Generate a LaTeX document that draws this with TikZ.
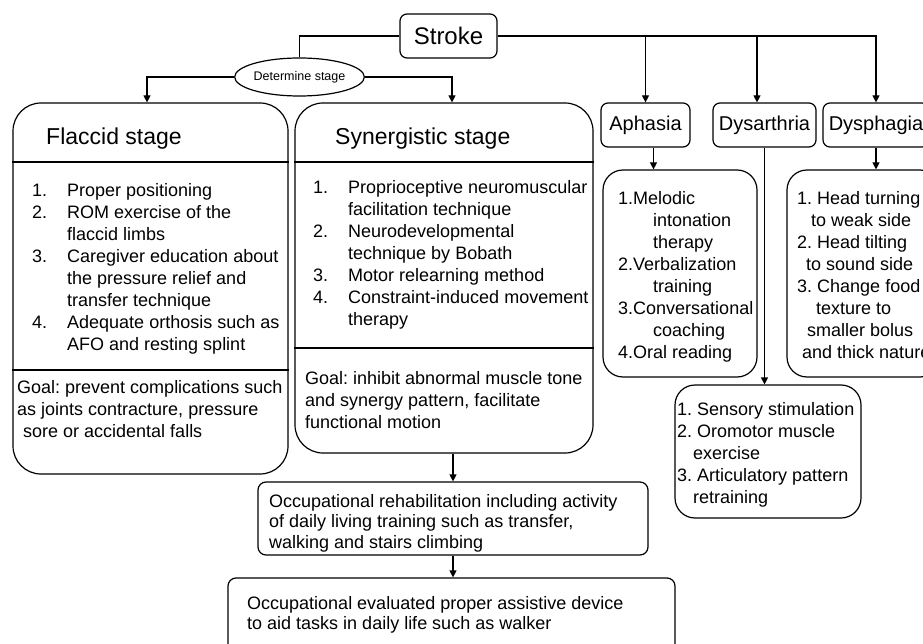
\documentclass[tikz,border=0pt]{standalone}
\usepackage{fontspec}
\setmainfont{Liberation Sans}
\usepackage{tikz}
\usetikzlibrary{arrows.meta, positioning, shapes.geometric}

\tikzset{
  box/.style={draw, line width=1.2pt, rounded corners=7pt, inner sep=0pt},
  bigbox/.style={draw, line width=1.2pt, rounded corners=28pt, inner sep=0pt},
  listbox/.style={draw, line width=1.2pt, rounded corners=20pt, inner sep=0pt},
  txt/.style={anchor=base west, align=left, inner sep=0pt, font=\fontsize{18}{22}\selectfont},
  arr/.style={-{Triangle[width=7pt,length=7pt]}, line width=1.2pt},
}
\newcommand{\num}[1]{\makebox[35pt][l]{#1}}
\frenchspacing

\begin{document}
\begin{tikzpicture}[x=1pt, y=-1pt]
\useasboundingbox (0,0) rectangle (923,644);
% top row
\node[box, minimum width=97, minimum height=44, font=\fontsize{24}{28}\selectfont] (stroke) at (448.5,36) {Stroke};
\node[draw, ellipse, line width=1.2pt, inner sep=0pt, minimum width=125, minimum height=38, font=\fontsize{12.5}{14}\selectfont] (det) at (299.5,77) {Determine stage};
\node[box, minimum width=89, minimum height=44, font=\fontsize{20}{24}\selectfont] (aphasia) at (645.5,125) {Aphasia};
\node[box, minimum width=103, minimum height=44, font=\fontsize{20}{24}\selectfont] (dysar) at (764.5,125) {Dysarthria};
\node[box, minimum width=106, minimum height=44, font=\fontsize{20}{24}\selectfont] (dysph) at (876,125) {Dysphagia};

% stage boxes (text nodes sit on the baseline of their last line)
\node[bigbox, minimum width=275, minimum height=371] (flaccid) at (150.5,288.5) {};
\node[bigbox, minimum width=298, minimum height=350] (syn) at (444,278) {};
\draw[line width=1.2pt] (flaccid.west |- 0,162) -- (flaccid.east |- 0,162);
\draw[line width=1.2pt] (flaccid.west |- 0,370) -- (flaccid.east |- 0,370);
\draw[line width=1.2pt] (syn.west |- 0,162) -- (syn.east |- 0,162);
\draw[line width=1.2pt] (syn.west |- 0,348) -- (syn.east |- 0,348);

\node[txt, font=\fontsize{23}{27}\selectfont] (ftitle) at (46,145) {Flaccid stage};
\node[txt] (flist) at (32,350) {\num{1.}Proper positioning\\
  \num{2.}ROM exercise of the\\ \hspace*{35pt}flaccid limbs\\
  \num{3.}Caregiver education about\\ \hspace*{35pt}the pressure relief and\\ \hspace*{35pt}transfer technique\\
  \num{4.}Adequate orthosis such as\\ \hspace*{35pt}AFO and resting splint};
\node[txt] (fgoal) at (17,437) {Goal: prevent complications such\\ as joints contracture, pressure\\ \hspace*{6pt}sore or accidental falls};

\node[txt, font=\fontsize{23}{27}\selectfont] (stitle) at (335,145) {Synergistic stage};
\node[txt] (slist) at (313,325) {\num{1.}Proprioceptive neuromuscular\\ \hspace*{35pt}facilitation technique\\
  \num{2.}Neurodevelopmental\\ \hspace*{35pt}technique by Bobath\\
  \num{3.}Motor relearning method\\
  \num{4.}Constraint-induced movement\\ \hspace*{35pt}therapy};
\node[txt] (sgoal) at (305,428) {Goal: inhibit abnormal muscle tone\\ and synergy pattern, facilitate\\ functional motion};

% right side lists
\node[listbox, minimum width=154, minimum height=207] (aphlist) at (680,273.5) {};
\node[txt] at (618,358) {1.Melodic\\ \hspace*{35pt}intonation\\ \hspace*{35pt}therapy\\
  2.Verbalization\\ \hspace*{35pt}training\\ 3.Conversational\\ \hspace*{35pt}coaching\\ 4.Oral reading};
\node[listbox, minimum width=153, minimum height=207] (dysphlist) at (863.5,273.5) {};
\node[txt] at (797,358) {1. Head turning\\ \hspace*{14pt}to weak side\\ 2. Head tilting\\ \hspace*{9pt}to sound side\\
  3. Change food\\ \hspace*{19pt}texture to\\ \hspace*{10pt}smaller bolus\\ \hspace*{5pt}and thick nature};
\node[listbox, minimum width=186, minimum height=133] (dyslist) at (768,451.5) {};
\node[txt] at (677,503) {1. Sensory stimulation\\ 2. Oromotor muscle\\ \hspace*{16pt}exercise\\
  3. Articulatory pattern\\ \hspace*{16pt}retraining};

% occupational boxes
\node[box, rounded corners=8pt, minimum width=390, minimum height=73] (rehab) at (453,518.5) {};
\node[txt, font=\fontsize{18}{20.5}\selectfont] at (269,548) {Occupational rehabilitation including activity\\
  of daily living training such as transfer,\\ walking and stairs climbing};
\node[box, rounded corners=8pt, minimum width=447, minimum height=122] (device) at (451.5,639) {};
\node[txt, font=\fontsize{18}{20}\selectfont] at (247,629) {Occupational evaluated proper assistive device\\
  to aid tasks in daily life such as walker};

% connectors
\draw[line width=1.2pt] (stroke.west) -| (det.north);
\draw[arr] (det.west) -| ([xshift=-3.5pt]flaccid.north);
\draw[arr] (det.east) -| ([xshift=8pt]syn.north);
\draw[arr] (stroke.east) -| (dysph.north);
\draw[arr] (aphasia.north |- stroke.east) -- (aphasia.north);
\draw[arr] ([xshift=-7.5pt]dysar.north |- stroke.east) -- ([xshift=-7.5pt]dysar.north);
\draw[arr] ([xshift=8pt]aphasia.south) -- ([xshift=8pt]aphasia.south |- aphlist.north);
\draw[arr] (dysar.south) -- (dysar.south |- dyslist.north);
\draw[arr] (dysph.south) -- (dysph.south |- dysphlist.north);
\draw[arr] (rehab.north |- syn.south) -- (rehab.north);
\draw[arr] (rehab.south) -- (rehab.south |- device.north);
\end{tikzpicture}
\end{document}
